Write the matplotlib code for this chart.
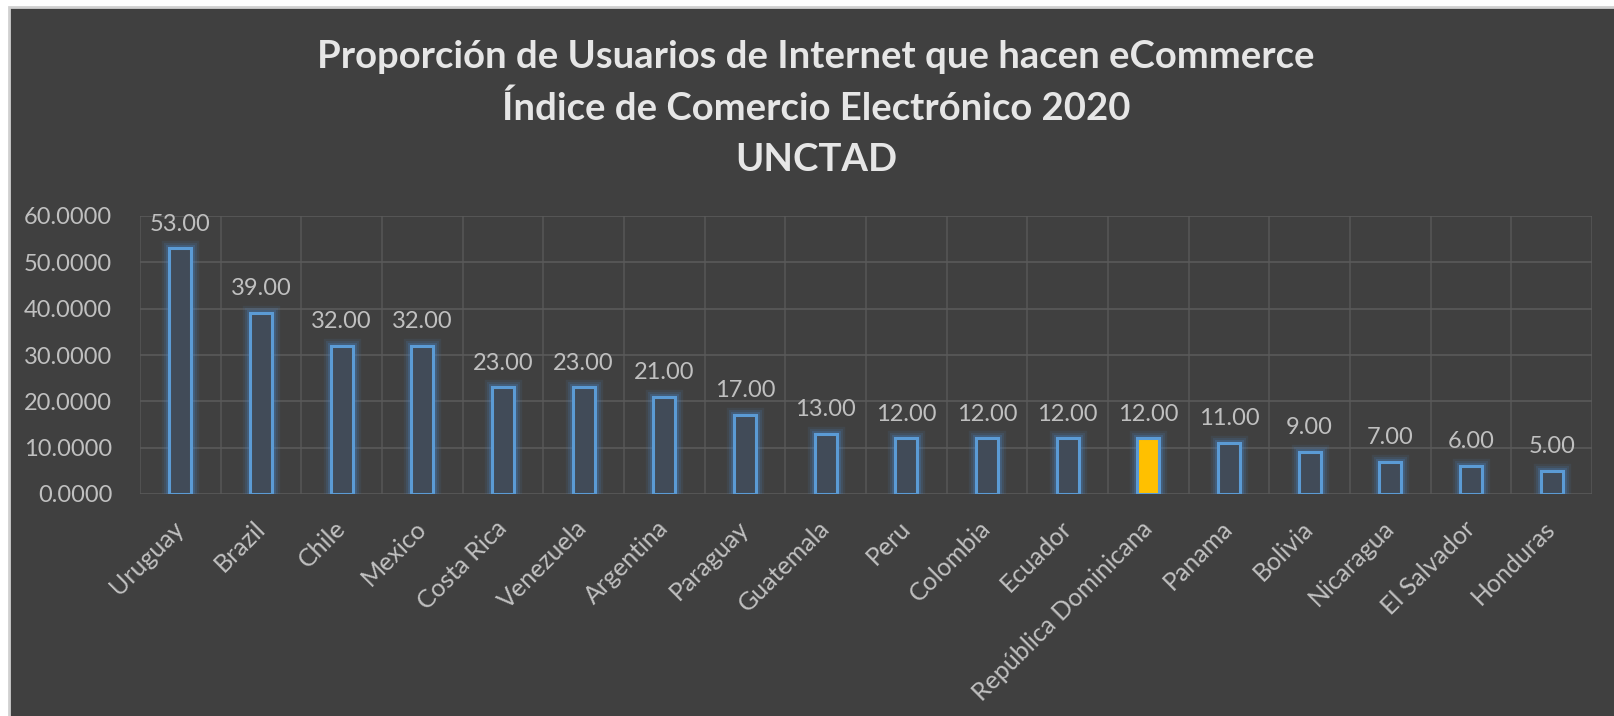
import numpy as np
import matplotlib.pyplot as plt
from matplotlib.patches import Rectangle

# datos
paises = ['Uruguay', 'Brazil', 'Chile', 'Mexico', 'Costa Rica', 'Venezuela',
          'Argentina', 'Paraguay', 'Guatemala', 'Peru', 'Colombia', 'Ecuador',
          'República Dominicana', 'Panama', 'Bolivia', 'Nicaragua',
          'El Salvador', 'Honduras']
valores = [53, 39, 32, 32, 23, 23, 21, 17, 13, 12, 12, 12, 12, 11, 9, 7, 6, 5]
destacado = 'República Dominicana'
titulo = ['Proporción de Usuarios de Internet que hacen eCommerce',
          'Índice de Comercio Electrónico 2020',
          'UNCTAD']

fondo = '#404040'
gris_texto = '#c0c0c0'
azul = '#5b9bd5'

plt.rcParams['font.family'] = ['Lato', 'DejaVu Sans']

fig = plt.figure(figsize=(16.14, 7.16), dpi=100)
fig.patch.set_facecolor('white')
# marco del grafico
fig.patches.append(Rectangle((9 / 1614, -0.05), 1.1, (709 / 716) + 0.05,
                             transform=fig.transFigure, facecolor=fondo,
                             edgecolor='#d0d0d0', lw=2, zorder=-10))

ax = fig.add_axes([140 / 1614, 1 - 494 / 716, (1592 - 140) / 1614, (494 - 216) / 716])
ax.set_facecolor('none')
ax.set_zorder(5)

x = np.arange(len(paises))
ancho = 0.27

# brillo alrededor de las barras
for lw, a in [(11, 0.10), (8, 0.15), (5, 0.25)]:
    ax.bar(x, valores, width=ancho, facecolor='none', edgecolor='#4a86c8',
           linewidth=lw, alpha=a, zorder=2)

colores = ['#ffc000' if p == destacado else '#414b58' for p in paises]
ax.bar(x, valores, width=ancho, color=colores, edgecolor=azul, linewidth=2.2, zorder=3)

for xi, v in zip(x, valores):
    ax.annotate(f'{v:.2f}', (xi, v), xytext=(0, 10), textcoords='offset points',
                ha='center', va='bottom', color=gris_texto, fontsize=17)

ax.set_xlim(-0.5, len(paises) - 0.5)
ax.set_ylim(0, 60)
ax.set_yticks(np.arange(0, 61, 10))
ax.set_yticklabels([f'{t:.4f}' for t in np.arange(0, 61, 10)])
ax.set_xticks(x)
ax.set_xticklabels(paises, rotation=45, ha='right', va='center', rotation_mode='anchor')
ax.set_xticks(np.arange(-0.5, len(paises)), minor=True)

ax.tick_params(axis='both', which='both', length=0, colors=gris_texto, labelsize=17)
ax.tick_params(axis='y', pad=20)
ax.tick_params(axis='x', pad=22, labelsize=18)
ax.grid(axis='y', which='major', color='#5a5a5a', lw=1.2, zorder=1)
ax.grid(axis='x', which='minor', color='#555555', lw=1.2, zorder=1)
ax.grid(axis='x', which='major', visible=False)
for s in ax.spines.values():
    s.set_visible(False)

for linea, y in zip(titulo, [57, 108, 160]):
    fig.text(816 / 1614, 1 - y / 716, linea, ha='center', va='center',
             color='#e6e6e6', fontsize=27.5, fontweight='bold')

fig.savefig('out.png', dpi=100, facecolor=fig.get_facecolor())
